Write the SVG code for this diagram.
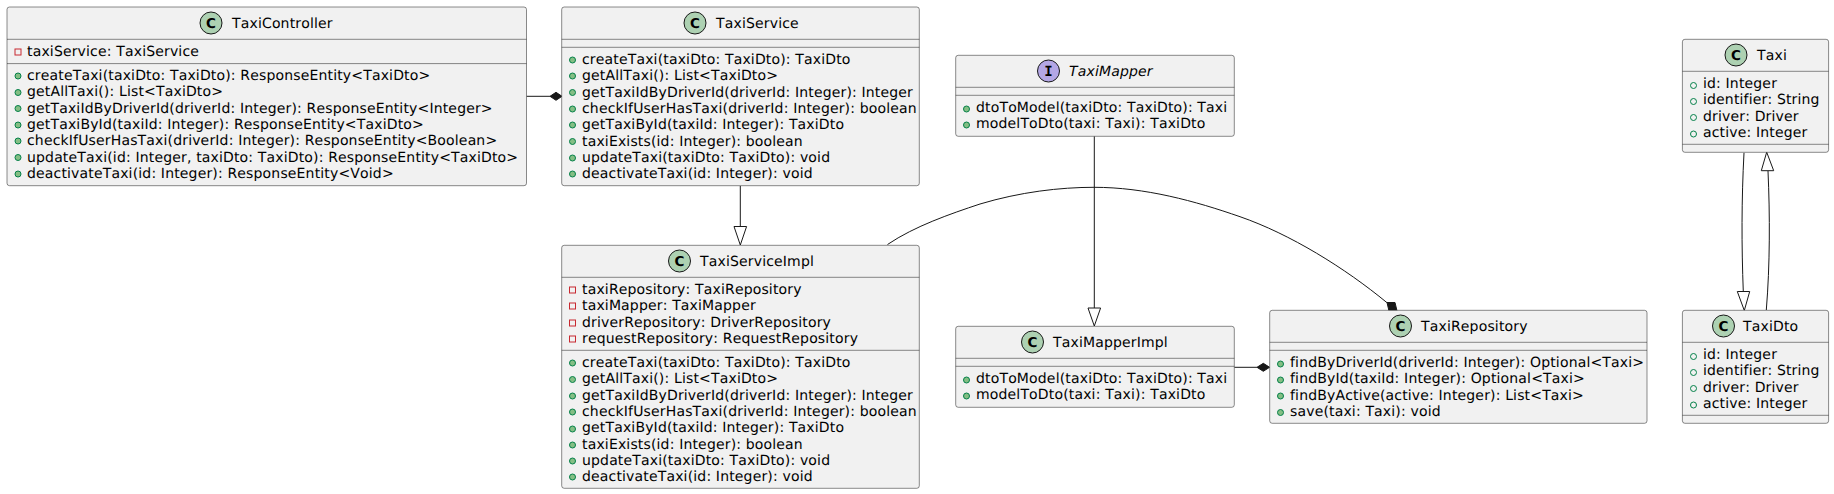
<svg xmlns="http://www.w3.org/2000/svg" width="1834" height="494" viewBox="0 0 1834 494">
<style>
text{font-family:"DejaVu Sans",sans-serif;font-size:14px;fill:#000;text-rendering:geometricPrecision;letter-spacing:.16px;font-kerning:none}
.box{fill:#F1F1F1;stroke:#181818;stroke-width:.5}
.div{stroke:#181818;stroke-width:.5;fill:none}
.spot{fill:#ADD1B2;stroke:#181818;stroke-width:1}
.ispot{fill:#B4A7E5;stroke:#181818;stroke-width:1}
.gl{font-weight:700;font-size:13.5px;text-anchor:middle;letter-spacing:0}
.gi{font-family:"DejaVu Sans Mono",monospace;font-weight:700;font-size:14px;text-anchor:middle;letter-spacing:0}
.m{fill:#84BE84;stroke:#038048;stroke-width:1}
.f{fill:none;stroke:#038048;stroke-width:1}
.p{fill:none;stroke:#C82930;stroke-width:1}
.c{fill:none;stroke:#181818;stroke-width:1}
.tri{fill:#fff;stroke:#181818;stroke-width:1}
.dia{fill:#181818;stroke:#181818;stroke-width:1}
</style>
<defs>
<circle id="pm" r="3" class="m"/>
<circle id="pf" r="3" class="f"/>
<rect id="pr" x="-3" y="-3" width="6" height="6" class="p"/>
</defs>
<g id="connectors">
<path class="c" d="M526.5,96.3H550"/><path class="dia" d="M550,96.3l6,-4l6,4l-6,4z"/>
<path class="c" d="M740.3,185.7V227"/><path class="tri" d="M734,226.5h12.6l-6.3,18.5z"/>
<path class="c" d="M1094.3,136.3V308"/><path class="tri" d="M1088,308h12.6l-6.3,18z"/>
<path class="c" d="M887.5,244.5C915,226 950,214 980,204C1020,192 1060,187.3 1094,187.3C1145,187.3 1195,201 1240,216.7C1290,234 1345,268 1387,302.7"/>
<path class="dia" d="M1387,302.5L1395,302.5L1397,311L1389,311z"/>
<path class="c" d="M1234.3,367.3H1257"/><path class="dia" d="M1257,367.3l6.3,-4l6.3,4l-6.3,4z"/>
<path class="c" d="M1744,152.8C1741.5,200 1741.5,245 1743.3,292"/><path class="tri" d="M1737.3,291.5h12.4l-5.4,19z"/>
<path class="c" d="M1766.3,310C1770,265 1770,215 1768,171"/><path class="tri" d="M1761.3,170.7h12.4l-7,-18.5z"/>
</g>
<g id="TaxiController">
<rect class="box" x="7" y="7" width="519.5" height="178.7" rx="2.5"/>
<path class="div" d="M7,39.3h519.5M7,63.6h519.5"/>
<circle class="spot" cx="211" cy="23" r="11"/><text class="gl" x="211" y="28">C</text>
<text x="232" y="28">TaxiController</text>
<use href="#pr" x="18" y="52"/><text x="27" y="56">taxiService: TaxiService</text>
<use href="#pm" x="18" y="76"/><text x="27" y="80">createTaxi(taxiDto: TaxiDto): ResponseEntity&lt;TaxiDto&gt;</text>
<use href="#pm" x="18" y="92.5"/><text x="27" y="96.3">getAllTaxi(): List&lt;TaxiDto&gt;</text>
<use href="#pm" x="18" y="108.5"/><text x="27" y="112.6">getTaxiIdByDriverId(driverId: Integer): ResponseEntity&lt;Integer&gt;</text>
<use href="#pm" x="18" y="125"/><text x="27" y="128.9">getTaxiById(taxiId: Integer): ResponseEntity&lt;TaxiDto&gt;</text>
<use href="#pm" x="18" y="141"/><text x="27" y="145.2">checkIfUserHasTaxi(driverId: Integer): ResponseEntity&lt;Boolean&gt;</text>
<use href="#pm" x="18" y="157.5"/><text x="27" y="161.5">updateTaxi(id: Integer, taxiDto: TaxiDto): ResponseEntity&lt;TaxiDto&gt;</text>
<use href="#pm" x="18" y="174"/><text x="27" y="177.8">deactivateTaxi(id: Integer): ResponseEntity&lt;Void&gt;</text>
</g>
<g id="TaxiService">
<rect class="box" x="561.7" y="7" width="357.6" height="178.7" rx="2.5"/>
<path class="div" d="M561.7,39.3h357.6M561.7,47.3h357.6"/>
<circle class="spot" cx="695" cy="23" r="11"/><text class="gl" x="695" y="28">C</text>
<text x="716" y="28">TaxiService</text>
<use href="#pm" x="572.5" y="60"/><text x="582" y="64">createTaxi(taxiDto: TaxiDto): TaxiDto</text>
<use href="#pm" x="572.5" y="76"/><text x="582" y="80.3">getAllTaxi(): List&lt;TaxiDto&gt;</text>
<use href="#pm" x="572.5" y="92.5"/><text x="582" y="96.6">getTaxiIdByDriverId(driverId: Integer): Integer</text>
<use href="#pm" x="572.5" y="109"/><text x="582" y="112.9">checkIfUserHasTaxi(driverId: Integer): boolean</text>
<use href="#pm" x="572.5" y="125"/><text x="582" y="129.2">getTaxiById(taxiId: Integer): TaxiDto</text>
<use href="#pm" x="572.5" y="141.5"/><text x="582" y="145.5">taxiExists(id: Integer): boolean</text>
<use href="#pm" x="572.5" y="158"/><text x="582" y="161.8">updateTaxi(taxiDto: TaxiDto): void</text>
<use href="#pm" x="572.5" y="174"/><text x="582" y="178.1">deactivateTaxi(id: Integer): void</text>
</g>
<g id="TaxiServiceImpl">
<rect class="box" x="561.7" y="245.3" width="357.6" height="243" rx="2.5"/>
<path class="div" d="M561.7,277.3h357.6M561.7,350.3h357.6"/>
<circle class="spot" cx="679.5" cy="261" r="11"/><text class="gl" x="679.5" y="266">C</text>
<text x="700" y="266">TaxiServiceImpl</text>
<use href="#pr" x="572.5" y="290"/><text x="582" y="294">taxiRepository: TaxiRepository</text>
<use href="#pr" x="572.5" y="306"/><text x="582" y="310.3">taxiMapper: TaxiMapper</text>
<use href="#pr" x="572.5" y="323"/><text x="582" y="326.6">driverRepository: DriverRepository</text>
<use href="#pr" x="572.5" y="339"/><text x="582" y="342.9">requestRepository: RequestRepository</text>
<use href="#pm" x="572.5" y="363"/><text x="582" y="367">createTaxi(taxiDto: TaxiDto): TaxiDto</text>
<use href="#pm" x="572.5" y="379.5"/><text x="582" y="383.3">getAllTaxi(): List&lt;TaxiDto&gt;</text>
<use href="#pm" x="572.5" y="396"/><text x="582" y="399.6">getTaxiIdByDriverId(driverId: Integer): Integer</text>
<use href="#pm" x="572.5" y="412"/><text x="582" y="415.9">checkIfUserHasTaxi(driverId: Integer): boolean</text>
<use href="#pm" x="572.5" y="429"/><text x="582" y="432.2">getTaxiById(taxiId: Integer): TaxiDto</text>
<use href="#pm" x="572.5" y="445"/><text x="582" y="448.5">taxiExists(id: Integer): boolean</text>
<use href="#pm" x="572.5" y="461"/><text x="582" y="464.8">updateTaxi(taxiDto: TaxiDto): void</text>
<use href="#pm" x="572.5" y="477"/><text x="582" y="481.1">deactivateTaxi(id: Integer): void</text>
</g>
<g id="TaxiMapper">
<rect class="box" x="955.7" y="55.3" width="278.6" height="81" rx="2.5"/>
<path class="div" d="M955.7,87.3h278.6M955.7,95.3h278.6"/>
<circle class="spot ispot" cx="1048.5" cy="71" r="11"/><text class="gi" x="1048.5" y="76">I</text>
<text x="1069" y="76" font-style="italic">TaxiMapper</text>
<use href="#pm" x="966.5" y="109"/><text x="976" y="112">dtoToModel(taxiDto: TaxiDto): Taxi</text>
<use href="#pm" x="966.5" y="125"/><text x="976" y="128.3">modelToDto(taxi: Taxi): TaxiDto</text>
</g>
<g id="TaxiMapperImpl">
<rect class="box" x="955.7" y="326.3" width="278.6" height="81" rx="2.5"/>
<path class="div" d="M955.7,358.3h278.6M955.7,366.3h278.6"/>
<circle class="spot" cx="1032.5" cy="342" r="11"/><text class="gl" x="1032.5" y="347">C</text>
<text x="1053" y="347">TaxiMapperImpl</text>
<use href="#pm" x="966.5" y="380"/><text x="976" y="383">dtoToModel(taxiDto: TaxiDto): Taxi</text>
<use href="#pm" x="966.5" y="396"/><text x="976" y="399.3">modelToDto(taxi: Taxi): TaxiDto</text>
</g>
<g id="TaxiRepository">
<rect class="box" x="1269.7" y="310.3" width="377.3" height="113" rx="2.5"/>
<path class="div" d="M1269.7,342.3h377.3M1269.7,350.3h377.3"/>
<circle class="spot" cx="1400.5" cy="326" r="11"/><text class="gl" x="1400.5" y="331">C</text>
<text x="1421" y="331">TaxiRepository</text>
<use href="#pm" x="1280.5" y="364"/><text x="1290" y="367">findByDriverId(driverId: Integer): Optional&lt;Taxi&gt;</text>
<use href="#pm" x="1280.5" y="380"/><text x="1290" y="383.3">findById(taxiId: Integer): Optional&lt;Taxi&gt;</text>
<use href="#pm" x="1280.5" y="396"/><text x="1290" y="399.6">findByActive(active: Integer): List&lt;Taxi&gt;</text>
<use href="#pm" x="1280.5" y="412.5"/><text x="1290" y="415.9">save(taxi: Taxi): void</text>
</g>
<g id="Taxi">
<rect class="box" x="1682.4" y="39.3" width="146.2" height="113" rx="2.5"/>
<path class="div" d="M1682.4,71.3h146.2M1682.4,144.3h146.2"/>
<circle class="spot" cx="1736" cy="55" r="11"/><text class="gl" x="1736" y="60">C</text>
<text x="1757" y="60">Taxi</text>
<use href="#pf" x="1693.5" y="85.5"/><text x="1703" y="88">id: Integer</text>
<use href="#pf" x="1693.5" y="101.5"/><text x="1703" y="104.3">identifier: String</text>
<use href="#pf" x="1693.5" y="117.5"/><text x="1703" y="120.6">driver: Driver</text>
<use href="#pf" x="1693.5" y="134"/><text x="1703" y="136.9">active: Integer</text>
</g>
<g id="TaxiDto">
<rect class="box" x="1682.4" y="310.3" width="146.2" height="113" rx="2.5"/>
<path class="div" d="M1682.4,342.3h146.2M1682.4,415.3h146.2"/>
<circle class="spot" cx="1723.5" cy="326" r="11"/><text class="gl" x="1723.5" y="331">C</text>
<text x="1743" y="331">TaxiDto</text>
<use href="#pf" x="1693.5" y="356.5"/><text x="1703" y="359">id: Integer</text>
<use href="#pf" x="1693.5" y="372.5"/><text x="1703" y="375.3">identifier: String</text>
<use href="#pf" x="1693.5" y="388.5"/><text x="1703" y="391.6">driver: Driver</text>
<use href="#pf" x="1693.5" y="405"/><text x="1703" y="407.9">active: Integer</text>
</g>
</svg>
